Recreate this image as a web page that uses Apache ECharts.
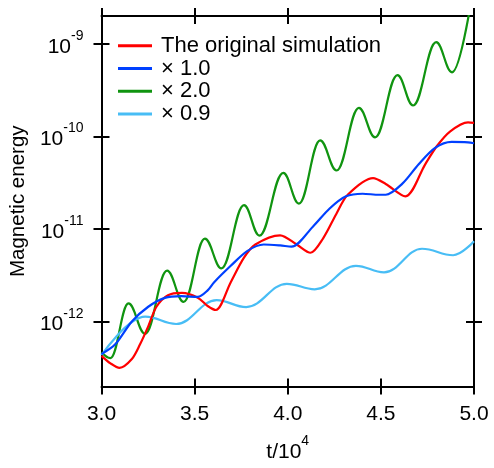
<!DOCTYPE html>
<html>
<head>
<meta charset="utf-8">
<script src="https://cdn.jsdelivr.net/npm/echarts@6/dist/echarts.min.js"></script>
<style>
html,body{margin:0;padding:0;background:#fff;}
#chart{width:494px;height:468px;}
</style>
</head>
<body>
<div id="chart"></div>
<script>
// Time axis (t / 10^4) and log10 of magnetic energy
const seriesNames = ['The original simulation', '× 1.0', '× 2.0', '× 0.9'];
const xTicks = [3.0, 3.5, 4.0, 4.5, 5.0];
const yTickExponents = [-12, -11, -10, -9];

const origT = [3.000,3.048,3.097,3.163,3.207,3.251,3.295,3.357,3.432,3.517,3.570,3.614,3.694,3.765,3.826,3.959,4.048,4.122,4.190,4.260,4.322,4.458,4.526,4.632,4.738,4.800,4.871,4.968,5.000];
const origLogE = [-12.369,-12.45,-12.499,-12.404,-12.245,-12.051,-11.839,-11.715,-11.69,-11.741,-11.831,-11.874,-11.574,-11.309,-11.167,-11.068,-11.167,-11.256,-11.10,-10.84,-10.63,-10.45,-10.513,-10.647,-10.301,-10.106,-9.947,-9.848,-9.854];

const x10T = [3.000,3.074,3.163,3.251,3.340,3.428,3.517,3.570,3.605,3.694,3.782,3.871,3.959,4.020,4.136,4.225,4.313,4.402,4.490,4.526,4.614,4.703,4.791,4.880,4.968,5.000];
const x10LogE = [-12.351,-12.245,-11.998,-11.839,-11.743,-11.725,-11.733,-11.662,-11.574,-11.397,-11.238,-11.167,-11.177,-11.19,-10.972,-10.778,-10.647,-10.619,-10.63,-10.63,-10.513,-10.301,-10.124,-10.06,-10.064,-10.074];

// turning points (minima / maxima) of the oscillating runs
const x20T = [3.000,3.048,3.145,3.234,3.352,3.441,3.555,3.644,3.765,3.848,3.976,4.060,4.174,4.262,4.382,4.469,4.589,4.673,4.797,4.882,5.000];
const x20LogE = [-12.33,-12.393,-11.803,-12.131,-11.45,-11.786,-11.103,-11.425,-10.742,-11.071,-10.394,-10.725,-10.042,-10.368,-9.691,-10.011,-9.339,-9.666,-8.982,-9.308,-8.35];

const x09T = [3.000,3.235,3.401,3.618,3.777,3.995,4.145,4.366,4.517,4.721,4.888,5.000];
const x09LogE = [-12.362,-11.946,-12.025,-11.768,-11.842,-11.591,-11.651,-11.397,-11.468,-11.213,-11.283,-11.131];

const colors = ['#ff0000', '#0040ff', '#109410', '#48bdf5'];
const FONT = '"Liberation Sans", Arial, Helvetica, sans-serif';

function pairs(ts, vs) { return ts.map((t, i) => [t, vs[i]]); }

const rich = {
  b: {fontSize: 21, fontFamily: FONT, color: '#000', padding: [6, 0, 0, 0]},
  s: {fontSize: 14, fontFamily: FONT, color: '#000', padding: [0, 0, 16, 0]}
};

const X = {type: 'value', min: 3, max: 5, interval: 0.5, splitLine: {show: false}};
const Y = {type: 'value', min: -12.7, max: -8.7, splitLine: {show: false}};
const lineSt = {color: '#000', width: 2};

const chart = echarts.init(document.getElementById('chart'), null, {renderer: 'canvas'});
chart.setOption({
  animation: false,
  backgroundColor: '#fff',
  grid: {left: 98, right: 20, top: 16, bottom: 75, containLabel: false},
  legend: {
    orient: 'vertical', left: 118, top: 34.7, padding: 0, itemGap: 0.8,
    itemWidth: 34, itemHeight: 3, icon: 'rect',
    data: seriesNames,
    textStyle: {fontSize: 22, fontFamily: FONT, color: '#000', lineHeight: 22, padding: [0, 0, 0, 4]}
  },
  xAxis: [
    Object.assign({}, X, {
      position: 'bottom',
      axisLine: {show: true, lineStyle: lineSt},
      axisTick: {show: true, inside: false, length: 8, lineStyle: lineSt},
      axisLabel: {show: true, margin: 17, fontSize: 21, fontFamily: FONT, color: '#000',
        formatter: v => v.toFixed(1)},
      name: '{b|t/10}{s|4}', nameLocation: 'middle', nameGap: 48,
      nameTextStyle: {rich: rich}
    }),
    Object.assign({}, X, {
      position: 'bottom',
      axisLine: {show: false},
      axisTick: {show: true, inside: true, length: 8, lineStyle: lineSt},
      axisLabel: {show: false}
    }),
    Object.assign({}, X, {
      position: 'top',
      axisLine: {show: true, lineStyle: lineSt},
      axisTick: {show: true, inside: false, length: 8, lineStyle: lineSt},
      axisLabel: {show: false}
    }),
    Object.assign({}, X, {
      position: 'top',
      axisLine: {show: false},
      axisTick: {show: true, inside: true, length: 8, lineStyle: lineSt},
      axisLabel: {show: false}
    })
  ],
  yAxis: [
    Object.assign({}, Y, {
      position: 'left',
      axisLine: {show: true, lineStyle: lineSt},
      axisTick: {show: true, inside: false, length: 8, lineStyle: lineSt, customValues: yTickExponents},
      axisLabel: {show: true, margin: 18, customValues: yTickExponents,
        formatter: v => '{b|10}{s|' + v + '}', rich: rich},
      name: 'Magnetic energy', nameLocation: 'middle', nameGap: 68,
      nameTextStyle: {fontSize: 20.5, fontFamily: FONT, color: '#000'}
    }),
    Object.assign({}, Y, {
      position: 'left',
      axisLine: {show: false},
      axisTick: {show: true, inside: true, length: 8, lineStyle: lineSt, customValues: yTickExponents},
      axisLabel: {show: false}
    }),
    Object.assign({}, Y, {
      position: 'right',
      axisLine: {show: true, lineStyle: lineSt},
      axisTick: {show: true, inside: false, length: 8, lineStyle: lineSt, customValues: yTickExponents},
      axisLabel: {show: false}
    }),
    Object.assign({}, Y, {
      position: 'right',
      axisLine: {show: false},
      axisTick: {show: true, inside: true, length: 8, lineStyle: lineSt, customValues: yTickExponents},
      axisLabel: {show: false}
    })
  ],
  series: [
    {name: seriesNames[2], type: 'line', data: pairs(x20T, x20LogE), color: colors[2], smooth: 0.4, smoothMonotone: 'x'},
    {name: seriesNames[3], type: 'line', data: pairs(x09T, x09LogE), color: colors[3], smooth: 0.4, smoothMonotone: 'x'},
    {name: seriesNames[0], type: 'line', data: pairs(origT, origLogE), color: colors[0], smooth: 0.3},
    {name: seriesNames[1], type: 'line', data: pairs(x10T, x10LogE), color: colors[1], smooth: 0.3}
  ].map(s => Object.assign(s, {
    xAxisIndex: 0, yAxisIndex: 0, showSymbol: false, symbol: 'none', clip: true,
    lineStyle: {width: 2.2, color: s.color}, itemStyle: {color: s.color}
  }))
});
</script>
</body>
</html>
